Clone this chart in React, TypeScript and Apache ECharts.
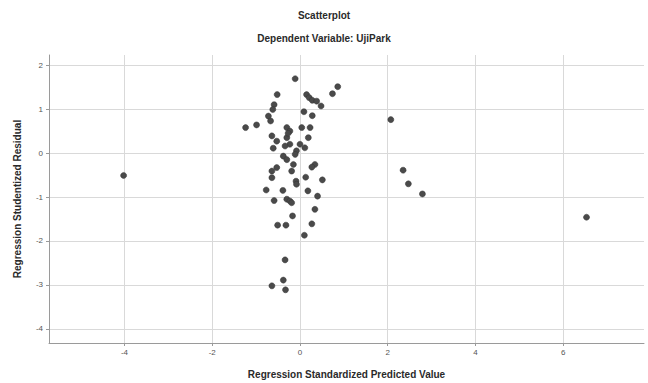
import React, { useEffect, useRef } from "react";
import * as echarts from "echarts";

const titleText = "Scatterplot";
const subtitleText = "Dependent Variable: UjiPark";
const xAxisName = "Regression Standardized Predicted Value";
const yAxisName = "Regression Studentized Residual";

const xTicks = [-4, -2, 0, 2, 4, 6];
const yTicks = [2, 1, 0, -1, -2, -3, -4];

// Regression Standardized Predicted Value
const predicted = [
  -0.11, 0.86, 0.74, -0.52, 0.15, 0.21, 0.28, 0.38, 0.48, -0.59,
  -0.62, 0.09, 0.28, -0.72, -0.67, -1.24, -0.99, -0.30, 0.04, 0.23,
  -0.23, -0.64, -0.30, -0.53, 0.19, -0.23, -0.34, 0.00, 0.11, -0.08,
  -0.11, -0.38, -0.30, -0.15, 0.34, 0.27, -0.53, -0.64, -0.64, -0.19,
  0.13, -0.09, -0.08, 0.51, -0.77, -0.39, 0.18, 0.40, -0.59, -0.30,
  -0.23, -0.19, 0.34, -0.17, -0.51, -0.32, 0.27, 0.10, -0.34, -0.38,
  -0.64, -0.33, -0.61, -0.27,
  -4.02, 2.07, 2.35, 2.47, 2.79, 6.53,
];

// Regression Studentized Residual
const residual = [
  1.69, 1.51, 1.35, 1.33, 1.33, 1.26, 1.20, 1.18, 1.07, 1.10,
  0.99, 0.94, 0.85, 0.84, 0.73, 0.58, 0.64, 0.58, 0.58, 0.58,
  0.50, 0.39, 0.35, 0.27, 0.35, 0.20, 0.16, 0.20, 0.12, 0.05,
  -0.03, -0.07, -0.15, -0.26, -0.26, -0.32, -0.33, -0.41, -0.56, -0.41,
  -0.55, -0.64, -0.71, -0.61, -0.84, -0.85, -0.86, -0.98, -1.08, -1.05,
  -1.09, -1.13, -1.28, -1.43, -1.64, -1.64, -1.61, -1.87, -2.43, -2.89,
  -3.02, -3.11, 0.11, 0.45,
  -0.51, 0.76, -0.39, -0.70, -0.93, -1.46,
];

export default function App() {
  const ref = useRef<HTMLDivElement>(null);

  useEffect(() => {
    if (!ref.current) return;
    const chart = echarts.init(ref.current, undefined, { renderer: "svg" });
    const data = predicted.map((x, i) => [x, residual[i]]);
    const font = "'Liberation Sans', Arial, sans-serif";
    chart.setOption({
      animation: false,
      backgroundColor: "#ffffff",
      textStyle: { fontFamily: font },
      graphic: [
        {
          type: "text",
          left: "center",
          top: 10,
          style: { text: titleText, font: `bold 10px ${font}`, fill: "#2a2a2a" },
        },
        {
          type: "text",
          left: "center",
          top: 33,
          style: { text: subtitleText, font: `bold 10px ${font}`, fill: "#2a2a2a" },
        },
      ],
      grid: {
        left: 49,
        right: 4,
        top: 55,
        bottom: 40,
        containLabel: false,
        outerBoundsMode: "none",
      },
      xAxis: {
        type: "value",
        min: -5.72,
        max: 7.84,
        name: xAxisName,
        nameLocation: "middle",
        nameGap: 26,
        nameTextStyle: { fontSize: 10, fontWeight: "bold", color: "#2a2a2a", fontFamily: font },
        axisLine: { show: true, onZero: false, lineStyle: { color: "#9a9a9a", width: 1 } },
        axisTick: { show: true, length: 3, customValues: xTicks, lineStyle: { color: "#9a9a9a" } },
        axisLabel: { customValues: xTicks, fontSize: 8, color: "#555555", margin: 5, fontFamily: font },
        splitLine: { show: true, lineStyle: { color: "#d9d9d9", width: 1 } },
      },
      yAxis: {
        type: "value",
        min: -4.32,
        max: 2.23,
        name: yAxisName,
        nameLocation: "middle",
        nameGap: 27,
        nameTextStyle: { fontSize: 10, fontWeight: "bold", color: "#2a2a2a", fontFamily: font },
        axisLine: { show: true, onZero: false, lineStyle: { color: "#9a9a9a", width: 1 } },
        axisTick: { show: true, length: 3, customValues: yTicks, lineStyle: { color: "#9a9a9a" } },
        axisLabel: { customValues: yTicks, fontSize: 8, color: "#555555", margin: 6, fontFamily: font },
        splitLine: { show: true, lineStyle: { color: "#d9d9d9", width: 1 } },
      },
      series: [
        {
          type: "scatter",
          data,
          symbol: "circle",
          symbolSize: 6,
          itemStyle: { color: "#4a4a4a", borderColor: "#333333", borderWidth: 0.5, opacity: 1 },
        },
      ],
    });
    return () => chart.dispose();
  }, []);

  return (
    <div
      ref={ref}
      style={{ position: "fixed", left: 0, top: 0, width: 648, height: 383 }}
    />
  );
}
